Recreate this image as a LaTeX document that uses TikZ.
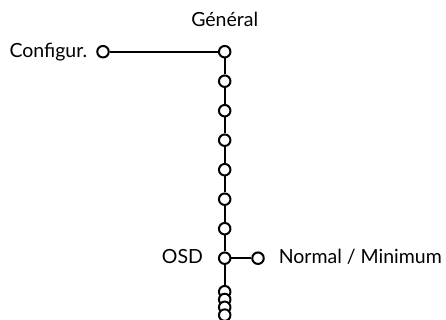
\documentclass[tikz,border=0pt]{standalone}
\usepackage{fontspec}
\setmainfont{Lato}
\usetikzlibrary{positioning}

\tikzset{
    knot/.style={circle,draw,fill=white,minimum size=11.5pt,inner sep=0pt},
    lbl/.style={font=\fontsize{19.5}{23}\selectfont,inner sep=0pt,text height=12pt,text depth=1pt}
}

\begin{document}
\begin{tikzpicture}[x=1pt,y=-1pt,line width=2pt]
    \useasboundingbox (0,0) rectangle (446,320);

    % menu column
    \foreach \i in {0,...,7}
        \node[knot] (k\i) at (224.7,51.7+29.5*\i) {};
    \foreach \i [count=\j from 1] in {0,...,6}
        \draw (k\i) -- (k\j);

    % stacked items below OSD
    \foreach \i in {0,...,3}
        \node[knot] (s\i) at (224.7,291.7+7.8*\i) {};
    \draw (k7) -- (s0);

    % Configur. branch
    \node[knot] (configur) at (103,51.7) {};
    \draw (configur) -- (k0);
    \node[lbl,left=8pt of configur] (configurtxt) {Configur.};
    \node[lbl,above=16pt of k0] (generaltxt) {Général};

    % OSD branch
    \node[knot] (normal) at (258,258.2) {};
    \draw (k7) -- (normal);
    \node[lbl,left=14pt of k7] (osdtxt) {OSD};
    \node[lbl,right=13pt of normal] (normaltxt) {Normal / Minimum};

\end{tikzpicture}
\end{document}
